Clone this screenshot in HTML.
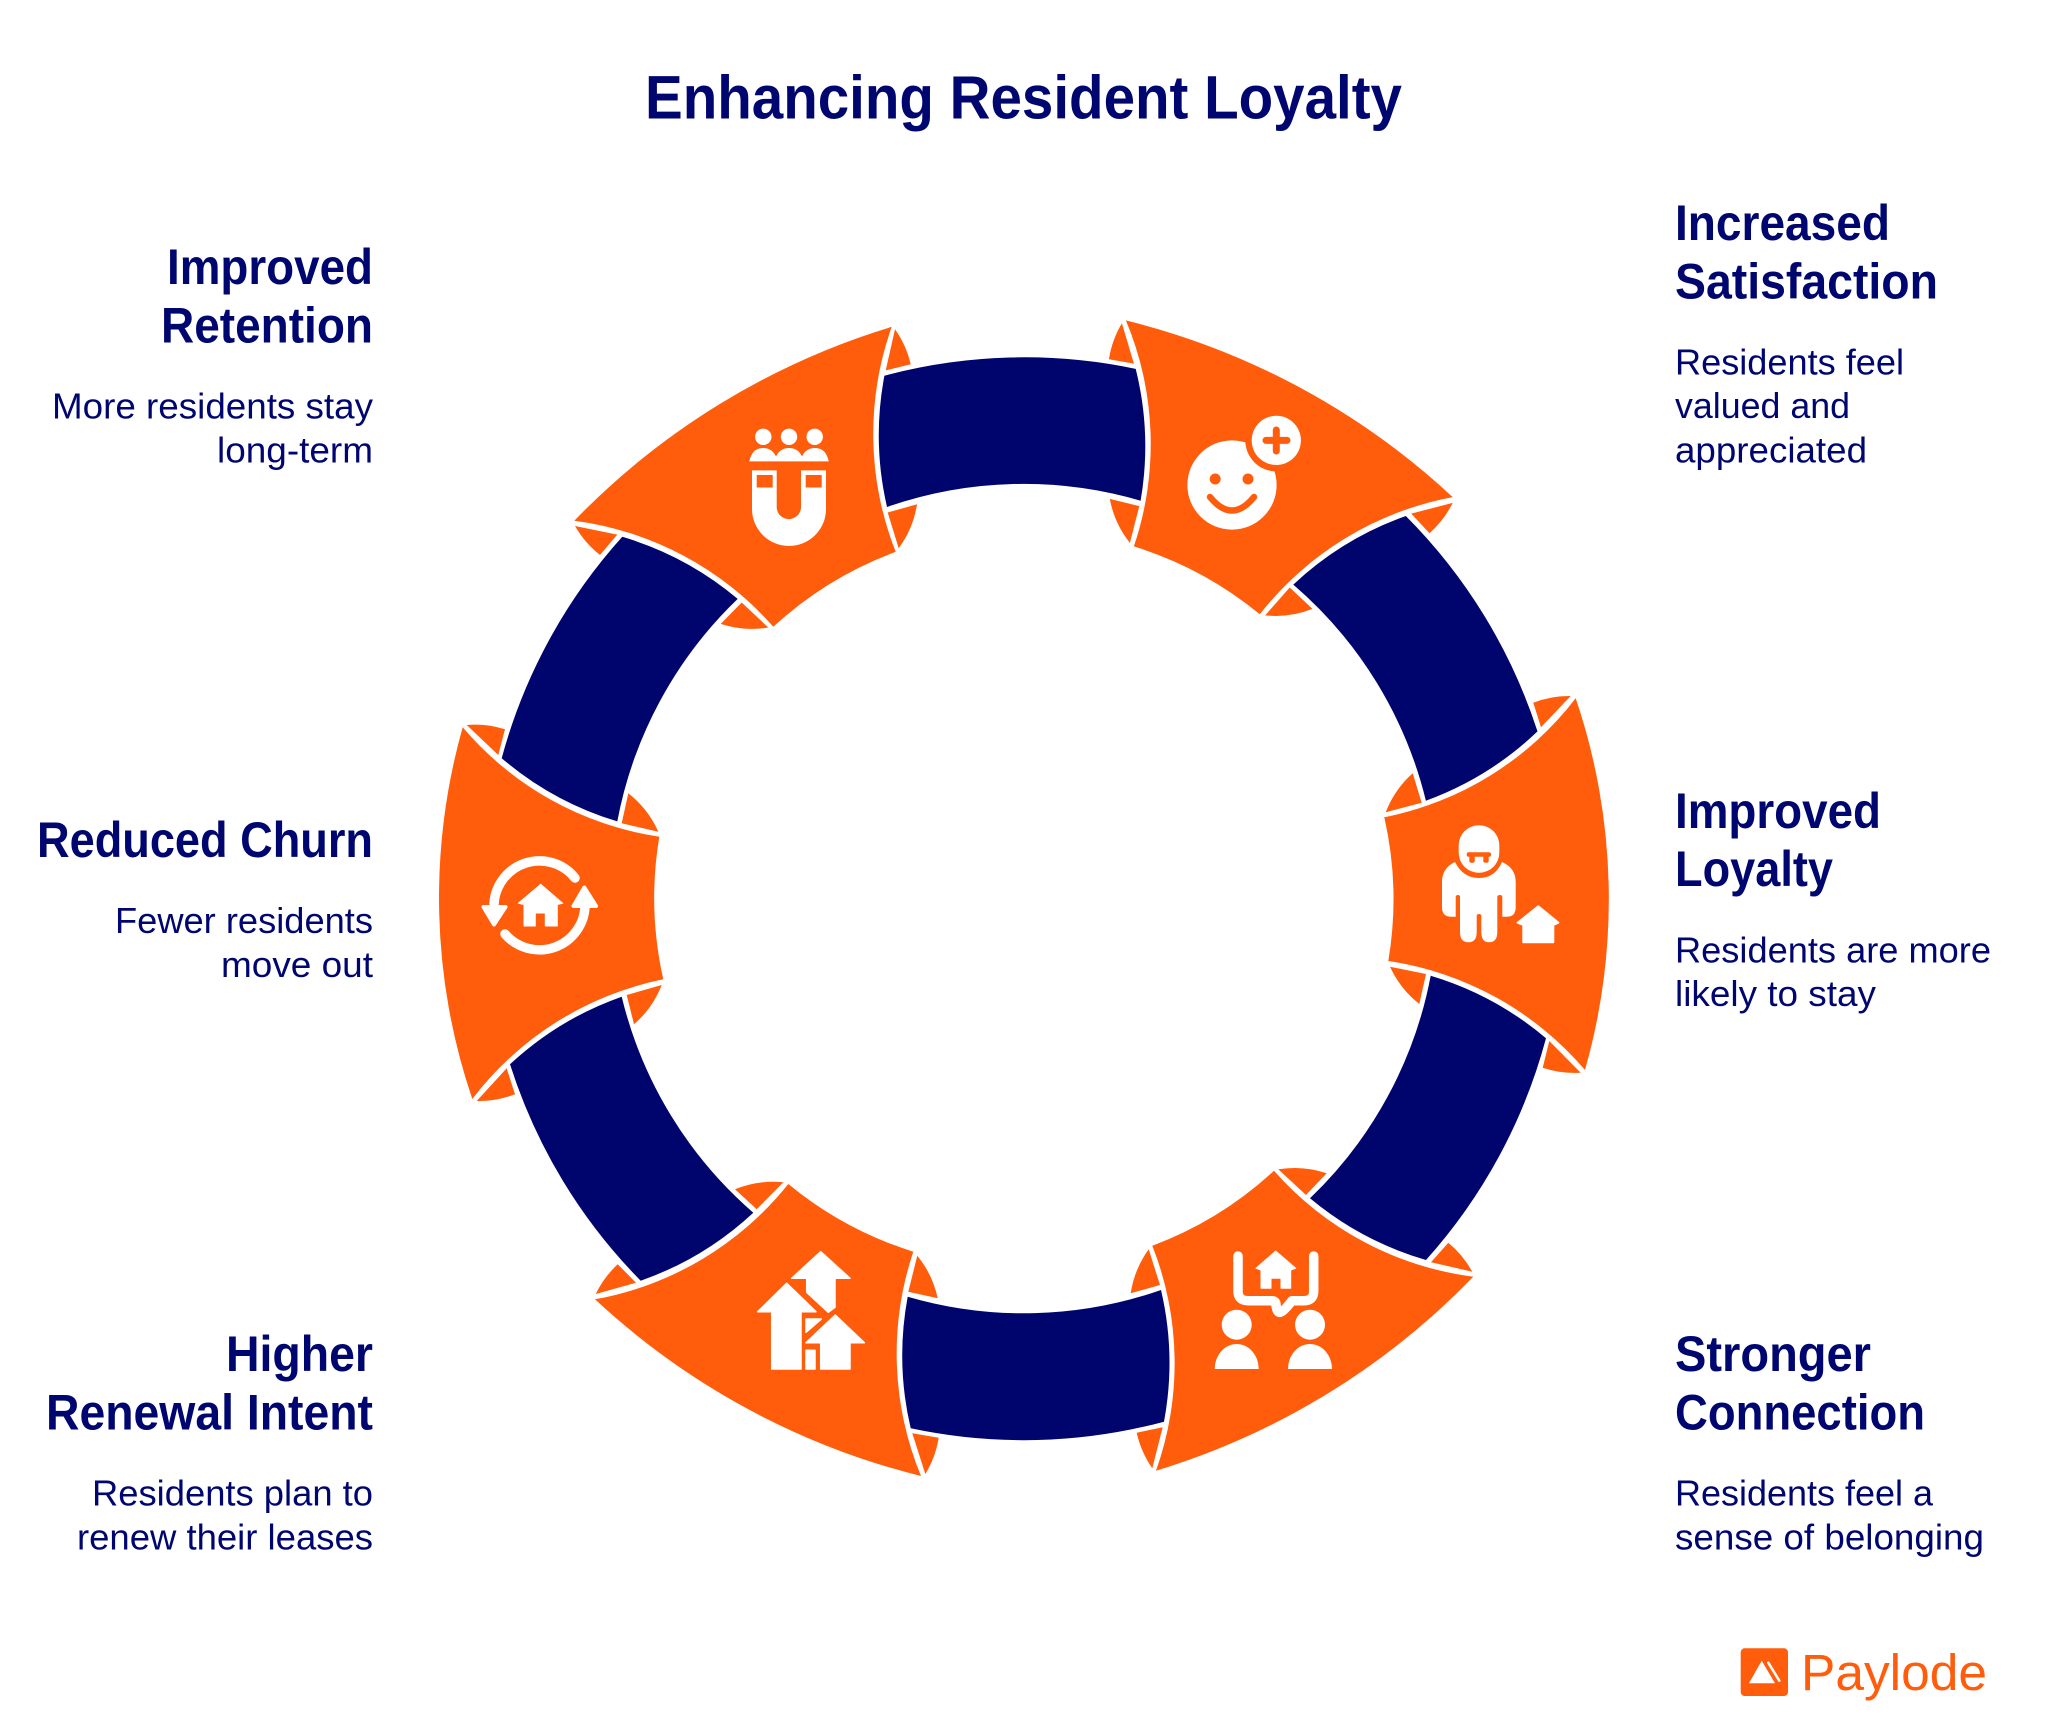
<!DOCTYPE html>
<html lang="en">
<head>
<meta charset="utf-8">
<title>Enhancing Resident Loyalty</title>
<style>
html,body{margin:0;padding:0;background:#fff}
svg{display:block}
text{font-family:"Liberation Sans",sans-serif;fill:#00066F}
.h{font-size:50px;font-weight:700}
.d{font-size:36px}
.o{fill:#FF5D0C}
.n{fill:#00056E}
.w{fill:#fff}
</style>
</head>
<body>
<svg width="2048" height="1733" viewBox="0 0 2048 1733" xmlns="http://www.w3.org/2000/svg">
<rect width="2048" height="1733" fill="#fff"/>

<text x="645" y="118.5" font-size="61" font-weight="700" textLength="757" lengthAdjust="spacingAndGlyphs">Enhancing Resident Loyalty</text>

<!-- navy segments -->
<g class="n">
<path d="M884.4 375.7A541 541 0 0 1 1135.7 368.9A320 320 0 0 1 1140.6 500.7A415 415 0 0 0 887 507A320 320 0 0 1 884.4 375.7Z"/>
<path d="M1405.8 516A541 541 0 0 1 1537.5 731.4A320 320 0 0 1 1425.9 800.7A415 415 0 0 0 1293.3 584.6A320 320 0 0 1 1405.8 516Z"/>
<path d="M1546 1038.3A541 541 0 0 1 1426 1260A320 320 0 0 1 1310 1198.3A415 415 0 0 0 1430.7 975.7A320 320 0 0 1 1546 1038.3Z"/>
<path d="M1164 1421.7A541 541 0 0 1 910.7 1428.3A320 320 0 0 1 907.7 1296.7A415 415 0 0 0 1161 1290A320 320 0 0 1 1164 1421.7Z"/>
<path d="M640.7 1280.7A541 541 0 0 1 510 1064.3A320 320 0 0 1 621.7 996.7A415 415 0 0 0 753.3 1212.7A320 320 0 0 1 640.7 1280.7Z"/>
<path d="M501.7 758.2A541 541 0 0 1 622.3 536.8A320 320 0 0 1 737.7 598.9A415 415 0 0 0 617.3 821.4A320 320 0 0 1 501.7 758.2Z"/>
</g>

<!-- orange segments -->
<g class="o">
<path d="M1125.9 320.4A740 740 0 0 1 1452.7 497.1A320 320 0 0 0 1259.8 614.3A370 370 0 0 0 1133.9 546.4A320 320 0 0 0 1125.9 320.4Z"/>
<path d="M1575.7 698.3A625 625 0 0 1 1585 1070A320 320 0 0 0 1388.3 961A370 370 0 0 0 1384.3 817.3A320 320 0 0 0 1575.7 698.3Z"/>
<path d="M1473.3 1276.7A740 740 0 0 1 1156 1470.7A320 320 0 0 0 1152.3 1245.7A370 370 0 0 0 1274 1170.7A320 320 0 0 0 1473.3 1276.7Z"/>
<path d="M921 1476A740 740 0 0 1 595 1299.3A320 320 0 0 0 788.3 1184A370 370 0 0 0 913.3 1251.7A320 320 0 0 0 921 1476Z"/>
<path d="M472.3 1099A625 625 0 0 1 462.7 727.3A320 320 0 0 0 659.3 836.7A370 370 0 0 0 663.3 979.3A320 320 0 0 0 472.3 1099Z"/>
<path d="M574.3 520.7A740 740 0 0 1 891.7 326.8A320 320 0 0 0 895.7 551.8A370 370 0 0 0 773.3 626.8A320 320 0 0 0 574.3 520.7Z"/>

<!-- small arrow tips -->
<path d="M1121.9 323.2L1133.9 363.6L1108.9 359.3A100 100 0 0 1 1121.9 323.2Z"/>
<path d="M1109.8 498.9L1139.3 506.1L1129.9 542.9A100 100 0 0 1 1109.8 498.9Z"/>
<path d="M1429.5 533.2L1411.2 513.6L1452.7 502.9A100 100 0 0 1 1429.5 533.2Z"/>
<path d="M1265.2 615.4L1289.7 587.5L1312.5 608.9A100 100 0 0 1 1265.2 615.4Z"/>

<path d="M1570.7 696L1541 727.3L1533.3 702.7A100 100 0 0 1 1570.7 696Z"/>
<path d="M1412.7 773.3L1421.7 802.7L1385.7 812.3A100 100 0 0 1 1412.7 773.3Z"/>
<path d="M1390 966.7L1426 974L1419.3 1004A100 100 0 0 1 1390 966.7Z"/>
<path d="M1542.7 1067.7L1549.3 1041L1580.7 1072.7A100 100 0 0 1 1542.7 1067.7Z"/>

<path d="M1326.7 1173.3L1306 1195L1278.3 1169.3A100 100 0 0 1 1326.7 1173.3Z"/>
<path d="M1472.3 1271.7L1431 1262.3L1448.3 1242.7A100 100 0 0 1 1472.3 1271.7Z"/>
<path d="M1148.7 1249.3L1160 1285L1130.7 1293.3A100 100 0 0 1 1148.7 1249.3Z"/>
<path d="M1136.7 1432.7L1162.7 1427.3L1152.3 1468.3A100 100 0 0 1 1136.7 1432.7Z"/>

<path d="M783.3 1182.3L756.7 1209.3L735 1189.3A100 100 0 0 1 783.3 1182.3Z"/>
<path d="M617.7 1264.3L636 1282.7L595.7 1294A100 100 0 0 1 617.7 1264.3Z"/>
<path d="M937.7 1298.3L908.3 1291.7L917.3 1255.7A100 100 0 0 1 937.7 1298.3Z"/>
<path d="M925.3 1474L912.3 1433.3L938.7 1437.7A100 100 0 0 1 925.3 1474Z"/>

<path d="M505 729.3L498.3 755L466.7 725A100 100 0 0 1 505 729.3Z"/>
<path d="M658.3 831.7L621.7 823.3L628.3 793.3A100 100 0 0 1 658.3 831.7Z"/>
<path d="M634 1024.3L626.7 995L661.7 985A100 100 0 0 1 634 1024.3Z"/>
<path d="M476.7 1101L506.7 1068.3L515 1094.3A100 100 0 0 1 476.7 1101Z"/>

<path d="M910.7 364.3L885.7 370.4L895 329.3A100 100 0 0 1 910.7 364.3Z"/>
<path d="M898.7 548.2L887.7 512.5L917 504.3A100 100 0 0 1 898.7 548.2Z"/>
<path d="M575 526L617.3 534.6L600 555A100 100 0 0 1 575 526Z"/>
<path d="M720.7 623.9L741.7 602.5L768.3 627.5A100 100 0 0 1 720.7 623.9Z"/>
</g>

<!-- icon: smiley plus -->
<circle class="w" cx="1232" cy="485" r="44.6"/>
<circle class="o" cx="1276.3" cy="440.4" r="31"/>
<circle class="w" cx="1276.3" cy="440.4" r="24.6"/>
<path d="M1266 440.4H1287M1276.3 430V451" stroke="#FF5D0C" stroke-width="7" stroke-linecap="round" fill="none"/>
<circle class="o" cx="1215.2" cy="479" r="5.5"/>
<circle class="o" cx="1248" cy="479" r="5.5"/>
<path d="M1210 497Q1232 524 1254 497" stroke="#FF5D0C" stroke-width="6.5" stroke-linecap="round" fill="none"/>

<!-- icon: person with house -->
<g class="w">
<rect x="1458.7" y="825.3" width="40.6" height="47.4" rx="20"/>
<path d="M1455 862Q1442 868 1442 882V907Q1442 916.7 1451 916.7H1455.7V897Q1455.7 895 1458 895Q1460 895 1460 897V932Q1460 942.3 1468.5 942.3Q1476.7 942.3 1476.7 932V916Q1476.7 914 1479 914Q1481.3 914 1481.3 916V932Q1481.3 942.3 1489 942.3Q1497.3 942.3 1497.3 932V897Q1497.3 895 1500 895Q1502.3 895 1502.3 897V916.7H1507Q1515.7 916.7 1515.7 907V882Q1515.7 868 1502 862Q1495 878 1479 878Q1463 878 1455 862Z"/>
<path d="M1538.3 906.3L1558.3 922.7L1553.3 925V942.3H1523.3V925L1517.7 922.7Z" stroke="#fff" stroke-width="2" stroke-linejoin="round"/>
</g>
<g class="o">
<rect x="1466.7" y="852.3" width="24.3" height="4.5" rx="2"/>
<rect x="1469.3" y="854" width="5.4" height="8.7" rx="2"/>
<rect x="1483.3" y="854" width="5.4" height="8.7" rx="2"/>
</g>

<!-- icon: two people with bubble -->
<g class="w">
<circle cx="1236.7" cy="1324.7" r="15"/>
<circle cx="1310" cy="1324.7" r="15"/>
<path d="M1214.7 1369A22 25 0 0 1 1258.7 1369Z"/>
<path d="M1288 1369A22 25 0 0 1 1332 1369Z"/>
<path d="M1275.7 1251L1295.7 1268.3L1290.7 1270V1288.3H1281V1278.3H1271V1288.3H1261V1270L1256 1268.3Z" stroke="#fff" stroke-width="1" stroke-linejoin="round"/>
</g>
<path d="M1238 1256V1291Q1238 1300.7 1248 1300.7H1272Q1276 1300.7 1276 1305Q1277 1314 1281 1312Q1284 1311 1292 1300.7H1304Q1313.7 1300.7 1313.7 1291V1256" fill="none" stroke="#fff" stroke-width="9.5" stroke-linecap="round" stroke-linejoin="round"/>

<!-- icon: growing houses -->
<g class="w" stroke="#fff" stroke-width="1.5" stroke-linejoin="round">
<path d="M786.7 1283.3L816 1311.7H801V1369H771.7V1311.7H757.7Z"/>
<path d="M820.7 1251.7L850 1278.3H835V1307.3L828.3 1312.3L806.7 1292.3V1278.3H791.7Z"/>
<path d="M835.3 1315L864.3 1342.7H850V1369H820.7V1342.7H806Z"/>
<path d="M806 1319H821.3L806 1332.3Z"/>
<rect x="806" y="1350.3" width="9" height="18.7"/>
</g>

<!-- icon: cycle house -->
<path d="M575 878A45.5 45.5 0 0 0 494 904" fill="none" stroke="#fff" stroke-width="9.5" stroke-linecap="round"/>
<path d="M505 934A45.5 45.5 0 0 0 585 906" fill="none" stroke="#fff" stroke-width="9.5" stroke-linecap="round"/>
<g class="w" stroke="#fff" stroke-width="4" stroke-linejoin="round">
<path d="M483.5 907H505.5L494 924.5Z"/>
<path d="M573.5 906H596L584.3 887.5Z"/>
</g>
<path class="w" d="M540.7 884.3L562.7 903.3L557.3 904.5V926H545.3V913H535.3V926H524V904.5L518.3 903.3Z" stroke="#fff" stroke-width="1" stroke-linejoin="round"/>

<!-- icon: magnet with people -->
<g class="w">
<circle cx="763.3" cy="436.8" r="8.2"/>
<circle cx="789" cy="436.8" r="8.2"/>
<circle cx="814.7" cy="436.8" r="8.2"/>
<path d="M749.3 461.4Q752 448 763 448Q772 448 776 456.5Q780 448 789 448Q798 448 802 456.5Q806 448 815 448Q826 448 828.7 461.4Z"/>
<path d="M752 470.4H776.7V508A12.2 12.2 0 0 0 801 508V470.4H826V509A37 37 0 0 1 752 509Z"/>
</g>
<rect class="o" x="756.7" y="475" width="16" height="12.5"/>
<rect class="o" x="805.7" y="475" width="16" height="12.5"/>

<!-- labels right -->
<text class="h" x="1675" y="240" textLength="215" lengthAdjust="spacingAndGlyphs">Increased</text>
<text class="h" x="1675" y="298.5" textLength="263" lengthAdjust="spacingAndGlyphs">Satisfaction</text>
<text class="d" x="1675" y="374.5" textLength="229" lengthAdjust="spacingAndGlyphs">Residents feel</text>
<text class="d" x="1675" y="418" textLength="175" lengthAdjust="spacingAndGlyphs">valued and</text>
<text class="d" x="1675" y="462.5" textLength="192" lengthAdjust="spacingAndGlyphs">appreciated</text>

<text class="h" x="1675" y="828" textLength="206" lengthAdjust="spacingAndGlyphs">Improved</text>
<text class="h" x="1675" y="886" textLength="158" lengthAdjust="spacingAndGlyphs">Loyalty</text>
<text class="d" x="1675" y="962.5" textLength="316" lengthAdjust="spacingAndGlyphs">Residents are more</text>
<text class="d" x="1675" y="1006" textLength="201" lengthAdjust="spacingAndGlyphs">likely to stay</text>

<text class="h" x="1675" y="1371" textLength="196" lengthAdjust="spacingAndGlyphs">Stronger</text>
<text class="h" x="1675" y="1429.5" textLength="250" lengthAdjust="spacingAndGlyphs">Connection</text>
<text class="d" x="1675" y="1505.5" textLength="258" lengthAdjust="spacingAndGlyphs">Residents feel a</text>
<text class="d" x="1675" y="1549.5" textLength="309" lengthAdjust="spacingAndGlyphs">sense of belonging</text>

<!-- labels left -->
<text class="h" x="167" y="284" textLength="206" lengthAdjust="spacingAndGlyphs">Improved</text>
<text class="h" x="161" y="342.7" textLength="212" lengthAdjust="spacingAndGlyphs">Retention</text>
<text class="d" x="52" y="418.5" textLength="321" lengthAdjust="spacingAndGlyphs">More residents stay</text>
<text class="d" x="217" y="462.5" textLength="156" lengthAdjust="spacingAndGlyphs">long-term</text>

<text class="h" x="37" y="857" textLength="336" lengthAdjust="spacingAndGlyphs">Reduced Churn</text>
<text class="d" x="115" y="933" textLength="258" lengthAdjust="spacingAndGlyphs">Fewer residents</text>
<text class="d" x="221" y="977" textLength="152" lengthAdjust="spacingAndGlyphs">move out</text>

<text class="h" x="226" y="1371" textLength="147" lengthAdjust="spacingAndGlyphs">Higher</text>
<text class="h" x="46" y="1429.5" textLength="327" lengthAdjust="spacingAndGlyphs">Renewal Intent</text>
<text class="d" x="92" y="1505.5" textLength="281" lengthAdjust="spacingAndGlyphs">Residents plan to</text>
<text class="d" x="77" y="1549.5" textLength="296" lengthAdjust="spacingAndGlyphs">renew their leases</text>

<!-- logo -->
<rect class="o" x="1740.7" y="1648.3" width="47.3" height="47.7" rx="4"/>
<path class="w" d="M1749 1683.3L1761.7 1660.7L1775 1683.3Z"/>
<path d="M1768.3 1662.7L1779.3 1680.7" stroke="#fff" stroke-width="2.5" fill="none" stroke-linecap="round"/>
<text x="1801" y="1690" font-size="51" style="fill:#FF5D0C" textLength="186" lengthAdjust="spacingAndGlyphs">Paylode</text>
</svg>
</body>
</html>
